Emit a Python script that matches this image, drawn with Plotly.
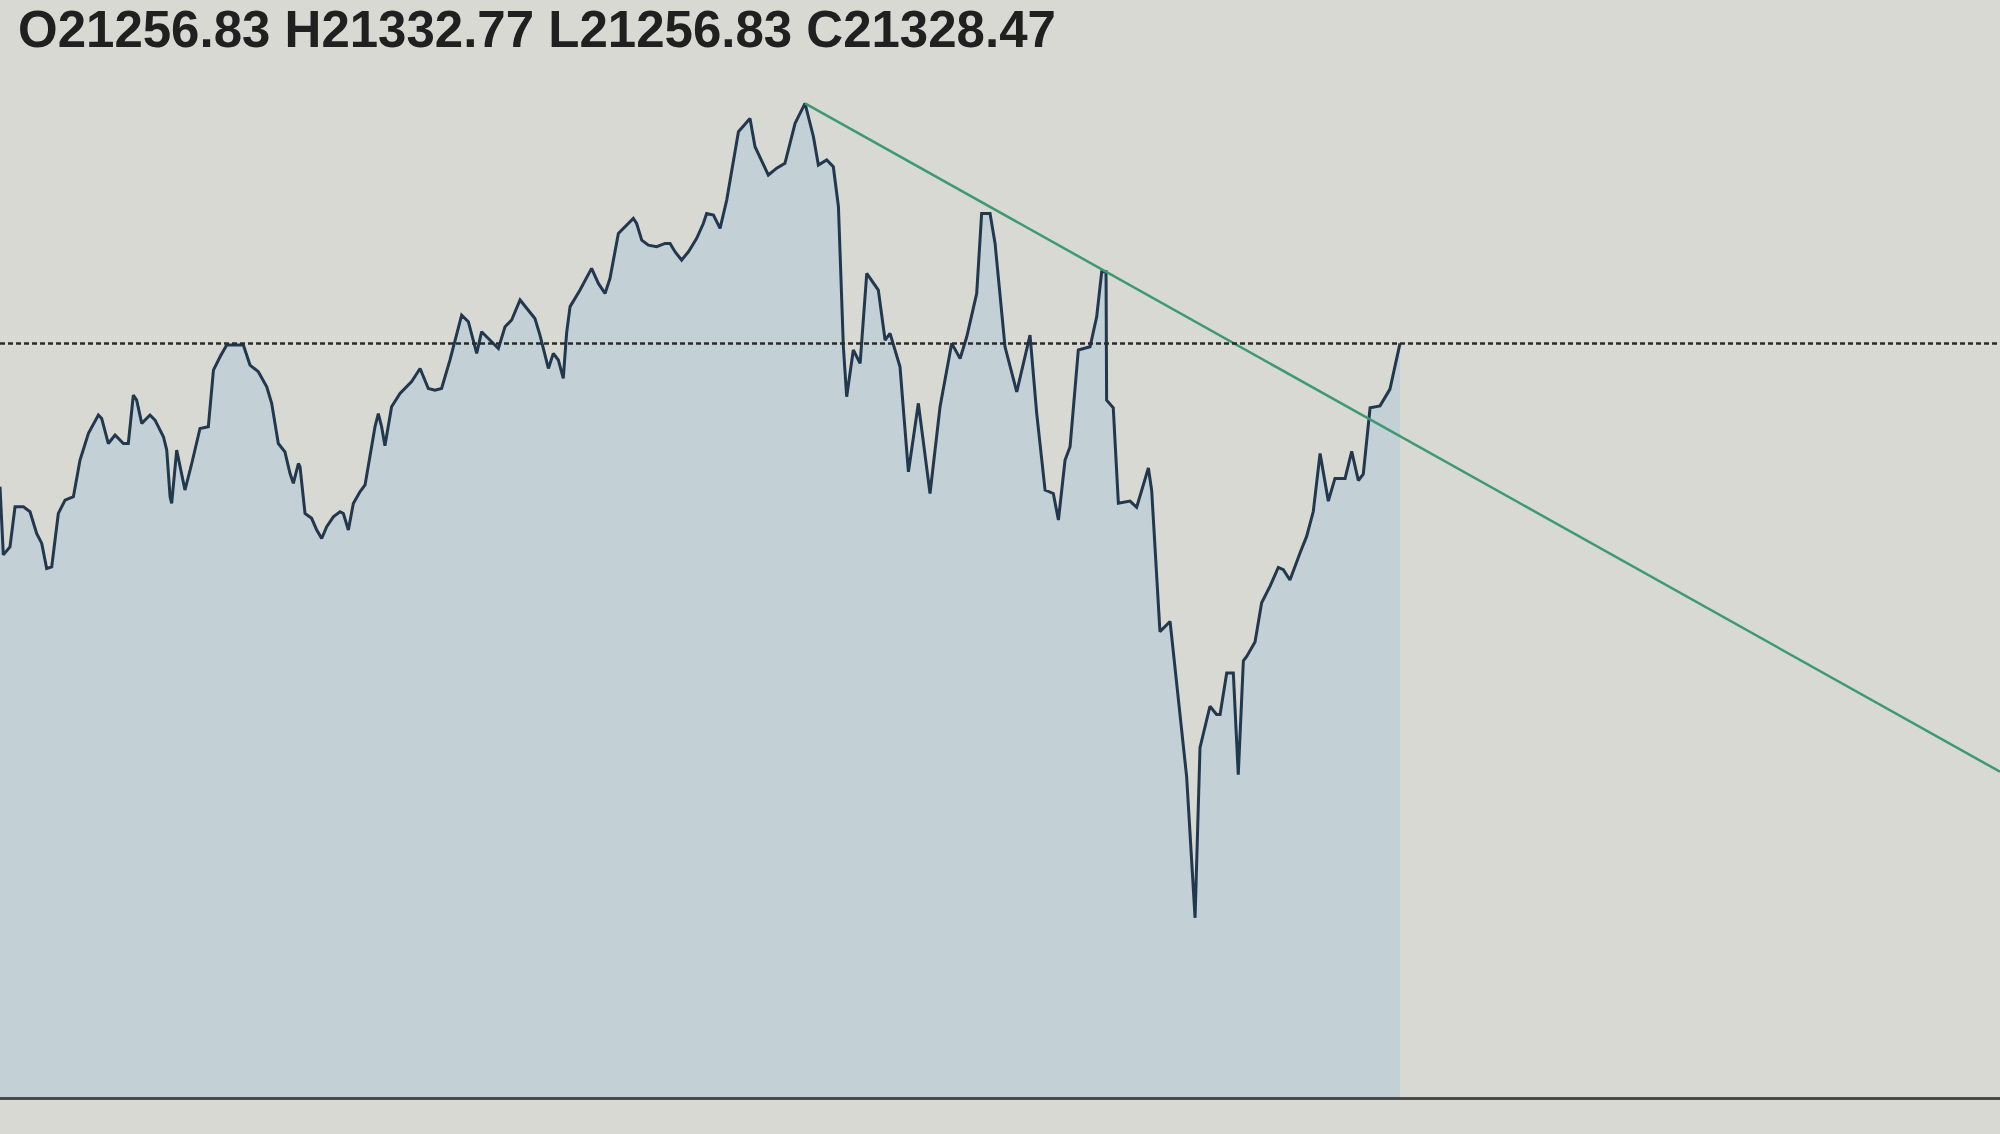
import plotly.graph_objects as go

# intraday index, seconds since the open and last price
secs = [0, 39, 117, 177, 275, 353, 431, 491, 549, 608, 686, 765, 863, 941, 1040, 1157, 1196, 1274, 1353, 1451,
        1509, 1568, 1607, 1667, 1764, 1823, 1922, 1961, 2000, 2019, 2078, 2136, 2175, 2255, 2352, 2450, 2510, 2588,
        2666, 2862, 2940, 3038, 3137, 3195, 3273, 3351, 3411, 3450, 3509, 3528, 3587, 3665, 3725, 3783, 3842, 3920,
        3999, 4038, 4097, 4155, 4233, 4293, 4352, 4410, 4449, 4488, 4527, 4605, 4704, 4841, 4940, 5037, 5115, 5193,
        5292, 5429, 5508, 5606, 5664, 5742, 5861, 5939, 6017, 6116, 6213, 6291, 6350, 6449, 6507, 6566, 6624, 6663,
        6704, 6821, 6957, 7037, 7115, 7173, 7272, 7331, 7409, 7448, 7487, 7547, 7625, 7722, 7821, 7880, 7938, 8016,
        8096, 8193, 8271, 8310, 8390, 8468, 8546, 8684, 8820, 8879, 9036, 9134, 9231, 9350, 9467, 9566, 9624, 9722,
        9800, 9860, 9918, 9957, 10035, 10115, 10193, 10329, 10409, 10467, 10584, 10683, 10800, 10937, 11055, 11192,
        11291, 11369, 11486, 11544, 11643, 11702, 11819, 11957, 12113, 12192, 12290, 12387, 12447, 12525, 12584,
        12681, 12819, 12897, 12956, 13007, 13014, 13092, 13152, 13289, 13367, 13505, 13544, 13641, 13760, 13877,
        13955, 14054, 14112, 14229, 14307, 14348, 14426, 14504, 14562, 14622, 14661, 14759, 14837, 14936, 15033,
        15092, 15170, 15288, 15366, 15444, 15524, 15621, 15699, 15818, 15896, 15974, 16032, 16112, 16229, 16346,
        16464]

prices = [21261.1, 21229.0, 21232.8, 21251.7, 21251.7, 21249.3, 21239.1, 21234.4, 21222.6, 21223.4, 21248.5,
          21254.8, 21256.4, 21273.6, 21286.2, 21294.8, 21293.2, 21281.4, 21285.4, 21281.4, 21281.4, 21304.2,
          21301.8, 21290.9, 21294.8, 21292.4, 21284.6, 21278.3, 21256.4, 21253.2, 21278.3, 21267.3, 21259.5,
          21272.0, 21288.5, 21289.3, 21315.9, 21322.2, 21327.7, 21327.7, 21318.3, 21315.2, 21308.1, 21300.3,
          21281.4, 21277.5, 21267.3, 21262.7, 21272.0, 21270.5, 21248.5, 21246.2, 21240.7, 21236.7, 21242.3,
          21246.9, 21249.3, 21248.5, 21240.7, 21253.2, 21258.7, 21261.9, 21275.2, 21289.3, 21295.5, 21289.3,
          21280.3, 21298.7, 21305.0, 21310.5, 21316.7, 21307.3, 21306.5, 21307.3, 21320.7, 21341.8, 21338.7,
          21323.8, 21334.0, 21330.8, 21326.1, 21336.3, 21339.5, 21348.9, 21344.2, 21340.2, 21332.4, 21316.7,
          21323.8, 21320.7, 21312.0, 21333.2, 21345.8, 21353.6, 21363.8, 21356.7, 21352.0, 21359.0, 21380.2,
          21382.6, 21385.7, 21387.3, 21384.9, 21377.1, 21374.7, 21374.0, 21375.5, 21375.5, 21371.6, 21367.7,
          21371.6, 21377.9, 21384.9, 21389.6, 21388.9, 21382.6, 21395.9, 21428.1, 21434.3, 21421.0, 21407.7,
          21410.9, 21413.2, 21432.0, 21441.4, 21425.7, 21412.4, 21414.8, 21411.6, 21392.8, 21326.9, 21303.4,
          21325.4, 21319.1, 21361.4, 21353.6, 21330.0, 21333.2, 21317.5, 21268.1, 21300.3, 21257.9, 21298.7,
          21328.5, 21321.4, 21331.6, 21352.0, 21389.6, 21389.6, 21375.5, 21326.9, 21305.7, 21332.4, 21295.5,
          21259.5, 21257.9, 21245.4, 21273.6, 21279.9, 21325.4, 21326.9, 21341.0, 21362.2, 21362.2, 21301.8,
          21298.2, 21253.3, 21254.3, 21251.4, 21269.9, 21259.2, 21192.9, 21197.7, 21153.9, 21124.6, 21058.3,
          21138.3, 21157.8, 21153.9, 21153.9, 21173.4, 21173.4, 21125.6, 21179.2, 21181.2, 21188.0, 21206.5,
          21214.3, 21223.1, 21222.1, 21217.2, 21229.9, 21237.7, 21249.4, 21276.7, 21254.3, 21265.0, 21265.0,
          21277.7, 21264.0, 21267.0, 21298.2, 21299.1, 21307.0, 21328.5]

# descending trend line drawn from the high
trend_secs = [9467, 23520]
trend_prices = [21441.4, 21127.0]

last_price = 21328.47
header = "O21256.83 H21332.77 L21256.83 C21328.47"

fig = go.Figure()

fig.add_trace(go.Scatter(
    x=secs, y=prices, mode="lines", fill="tozeroy",
    line=dict(color="#22384f", width=3),
    fillcolor="rgba(160,195,215,0.38)",
    hoverinfo="skip", showlegend=False,
))

fig.add_trace(go.Scatter(
    x=trend_secs, y=trend_prices, mode="lines",
    line=dict(color="#3c9a70", width=2.5),
    hoverinfo="skip", showlegend=False,
))

# current price line
fig.add_shape(type="line", xref="paper", x0=0, x1=1, yref="y", y0=last_price, y1=last_price,
              line=dict(color="#2a2a2a", width=2.5, dash="5px,3px"))

fig.add_annotation(
    text=header, xref="paper", x=0, xanchor="left", xshift=16,
    yref="paper", y=1, yanchor="middle", yshift=41, showarrow=False,
    font=dict(family="Liberation Sans", size=51, color="#202020", weight="bold"),
)

fig.update_layout(
    width=2000, height=1134,
    margin=dict(l=0, r=0, t=70, b=37),
    paper_bgcolor="#d9d9d4",
    plot_bgcolor="#d9d9d4",
    xaxis=dict(range=[0, 23520], showticklabels=False, showgrid=False, zeroline=False,
               showline=True, linecolor="#4a4a4a", linewidth=3, ticks=""),
    yaxis=dict(range=[20974, 21457.1], visible=False),
)

fig.write_html("out.html", config={"displayModeBar": False},
               post_script="document.body.style.margin='0';")
